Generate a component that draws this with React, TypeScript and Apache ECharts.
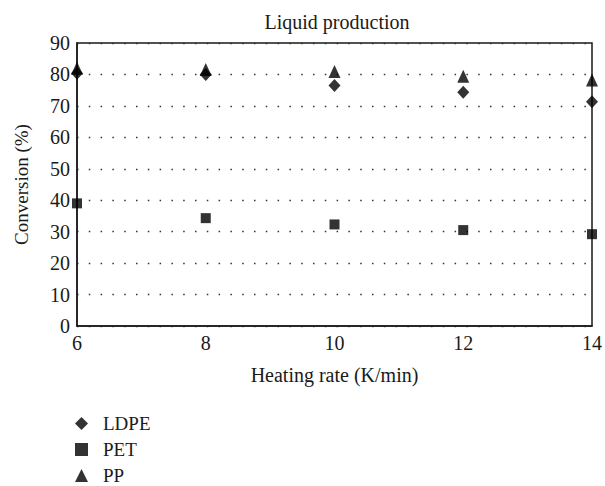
import React, { useEffect, useRef } from "react";
import * as echarts from "echarts";

const heatingRates = [6, 8, 10, 12, 14];
const ldpe = [80.4, 80.0, 76.5, 74.3, 71.3];
const pet = [39.0, 34.3, 32.3, 30.5, 29.2];
const pp = [82.0, 81.6, 80.9, 79.4, 78.2];
const seriesNames = ["LDPE", "PET", "PP"];

const FONT = "'Liberation Serif', 'DejaVu Serif', serif";
const INK = "#1a1a1a";

export default function App() {
  const ref = useRef<HTMLDivElement>(null);
  useEffect(() => {
    if (!ref.current) return;
    const chart = echarts.init(ref.current, undefined, { renderer: "svg" });
    const mk = (vals: number[]) => heatingRates.map((x, i) => [x, vals[i]]);
    chart.setOption({
      animation: false,
      backgroundColor: "#fff",
      title: {
        text: "Liquid production",
        left: 332,
        textAlign: "center",
        top: 7,
        textStyle: { fontFamily: FONT, fontSize: 20, fontWeight: "normal", color: INK },
      },
      grid: {
        left: 77,
        right: 10,
        top: 43,
        bottom: 160,
        show: true,
        borderColor: INK,
        borderWidth: 1.5,
        backgroundColor: "transparent",
      },
      legend: {
        orient: "vertical",
        left: 75,
        top: 414,
        height: 72,
        padding: 0,
        itemGap: 7,
        itemWidth: 13,
        itemHeight: 13,
        textStyle: {
          fontFamily: FONT,
          fontSize: 19,
          color: INK,
          lineHeight: 19,
          padding: [0, 0, 0, 10],
        },
        data: [
          { name: seriesNames[0], icon: "diamond" },
          { name: seriesNames[1], icon: "rect" },
          { name: seriesNames[2], icon: "triangle" },
        ],
      },
      xAxis: {
        type: "value",
        min: 6,
        max: 14,
        interval: 2,
        name: "Heating rate (K/min)",
        nameLocation: "middle",
        nameGap: 39,
        nameTextStyle: { fontFamily: FONT, fontSize: 20, color: INK },
        axisLine: { show: true, lineStyle: { color: INK, width: 1.5 } },
        axisTick: { show: false },
        axisLabel: { fontFamily: FONT, fontSize: 20, color: INK, margin: 7 },
        splitLine: { show: false },
      },
      yAxis: {
        type: "value",
        min: 0,
        max: 90,
        interval: 10,
        name: "Conversion (%)",
        nameLocation: "middle",
        nameGap: 46,
        nameTextStyle: { fontFamily: FONT, fontSize: 19, color: INK },
        axisLine: { show: true, lineStyle: { color: INK, width: 1.5 } },
        axisTick: { show: false },
        axisLabel: { fontFamily: FONT, fontSize: 20, color: INK, margin: 7 },
        splitLine: { show: true, lineStyle: { color: "#333", type: [1.5, 10.3], width: 1.3 } },
      },
      series: [
        {
          name: seriesNames[2],
          type: "scatter",
          symbol: "triangle",
          symbolSize: [12, 13],
          itemStyle: { color: "#000" },
          data: mk(pp),
          z: 2,
        },
        {
          name: seriesNames[0],
          type: "scatter",
          symbol: "diamond",
          symbolSize: [12, 13],
          itemStyle: { color: "#000" },
          data: mk(ldpe),
          z: 3,
        },
        {
          name: seriesNames[1],
          type: "scatter",
          symbol: "rect",
          symbolSize: 10,
          itemStyle: { color: "#000" },
          data: mk(pet),
          z: 3,
        },
      ],
    });
    return () => chart.dispose();
  }, []);
  return (
    <div
      ref={ref}
      style={{ position: "fixed", left: 0, top: 0, width: 605, height: 486 }}
    />
  );
}
